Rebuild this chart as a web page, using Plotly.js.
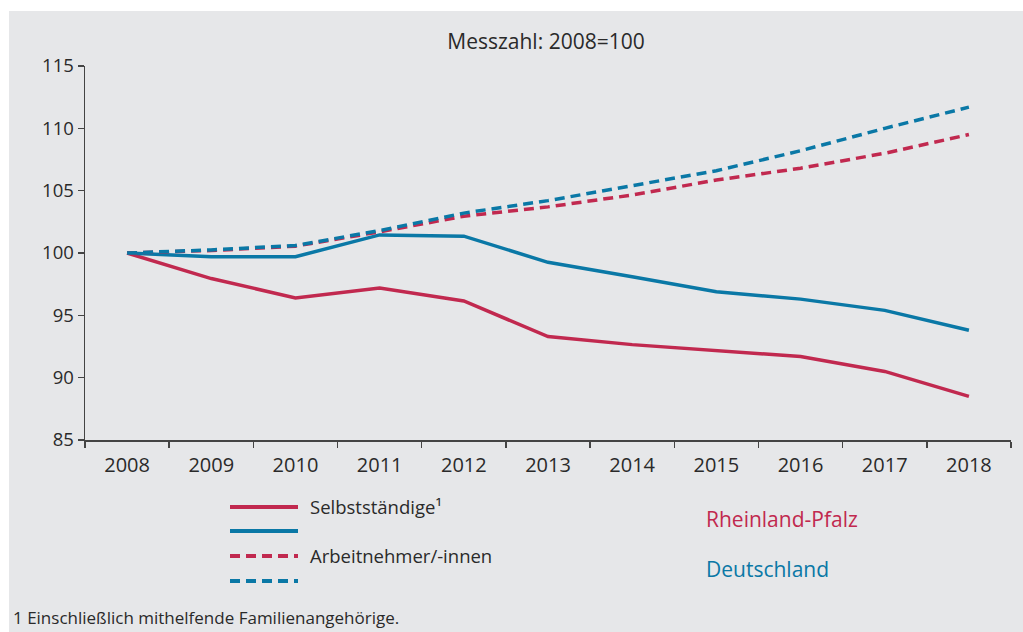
<!DOCTYPE html>
<html>
<head>
<meta charset="utf-8">
<script src="https://cdn.plot.ly/plotly-3.0.1.min.js"></script>
<style>
html,body{margin:0;padding:0;background:#ffffff;}
#chart{position:absolute;left:9px;top:11px;width:1014px;height:621px;}
</style>
</head>
<body>
<div id="chart"></div>
<script>
// ---- data ----
const years = ["2008","2009","2010","2011","2012","2013","2014","2015","2016","2017","2018"];
const selbstRLP = [100, 97.95, 96.4, 97.2, 96.15, 93.3, 92.65, 92.2, 91.7, 90.5, 88.5];
const selbstDE  = [100, 99.7, 99.7, 101.45, 101.35, 99.25, 98.1, 96.9, 96.3, 95.4, 93.8];
const arbnRLP   = [100, 100.2, 100.55, 101.7, 102.95, 103.7, 104.65, 105.85, 106.8, 108.0, 109.5];
const arbnDE    = [100, 100.25, 100.6, 101.8, 103.2, 104.2, 105.4, 106.6, 108.2, 110.0, 111.7];
const yTicks = [85, 90, 95, 100, 105, 110, 115];
const legendLabels = ["Selbstständige¹", "", "Arbeitnehmer/-innen", ""];
const regionLabels = ["Rheinland-Pfalz", "Deutschland"];
const titleText = "Messzahl: 2008=100";
const footnote = "1 Einschließlich mithelfende Familienangehörige.";

const RED = "#c1294f";
const BLUE = "#0a78a6";
const TXT = "#2a2a2a";
const FONT = "Open Sans, Noto Sans, sans-serif";

// layout geometry (div pixels)
const W = 1014, H = 621;
const M = {l: 76, r: 12, t: 55, b: 192};
const PW = W - M.l - M.r, PH = H - M.t - M.b;
const px2x = p => (p - M.l) / PW;
const px2y = p => (H - M.b - p) / PH;

const traces = [
  {x: years, y: selbstRLP, name: "Selbstständige¹ – Rheinland-Pfalz", mode: "lines",
   line: {color: RED, width: 3.5}},
  {x: years, y: selbstDE, name: "Selbstständige¹ – Deutschland", mode: "lines",
   line: {color: BLUE, width: 3.5}},
  {x: years, y: arbnRLP, name: "Arbeitnehmer/-innen – Rheinland-Pfalz", mode: "lines",
   line: {color: RED, width: 3.5, dash: "10px,6px"}},
  {x: years, y: arbnDE, name: "Arbeitnehmer/-innen – Deutschland", mode: "lines",
   line: {color: BLUE, width: 3.5, dash: "10px,6px"}}
];

// legend samples
const legendStyles = [
  {color: RED, dash: "solid"}, {color: BLUE, dash: "solid"},
  {color: RED, dash: "10px,6px"}, {color: BLUE, dash: "10px,6px"}
];
const legendRowY = [496, 520, 545, 570];
const shapes = legendStyles.map((s, i) => ({
  type: "line", xref: "paper", yref: "paper",
  x0: px2x(221), x1: px2x(289), y0: px2y(legendRowY[i]), y1: px2y(legendRowY[i]),
  line: {color: s.color, width: 4, dash: s.dash}
}));

const annotations = [];
legendLabels.forEach((t, i) => {
  if (!t) return;
  annotations.push({text: t, xref: "paper", yref: "paper", x: px2x(299), y: px2y(legendRowY[i] - 1),
    xanchor: "left", yanchor: "middle", showarrow: false, font: {family: FONT, size: 18.5, color: TXT}});
});
annotations.push({text: regionLabels[0], xref: "paper", yref: "paper", x: px2x(695), y: px2y(508),
  xanchor: "left", yanchor: "middle", showarrow: false, font: {family: FONT, size: 21, color: RED}});
annotations.push({text: regionLabels[1], xref: "paper", yref: "paper", x: px2x(695), y: px2y(558),
  xanchor: "left", yanchor: "middle", showarrow: false, font: {family: FONT, size: 21, color: BLUE}});
annotations.push({text: footnote, xref: "paper", yref: "paper", x: px2x(2), y: px2y(606),
  xanchor: "left", yanchor: "middle", showarrow: false, font: {family: FONT, size: 17, color: TXT}});

const layout = {
  width: W, height: H,
  margin: M,
  paper_bgcolor: "#e6e7e9",
  plot_bgcolor: "#e6e7e9",
  showlegend: false,
  font: {family: FONT, color: TXT, size: 18},
  title: {text: titleText, x: px2x(537), xref: "paper", xanchor: "center",
          y: 1 - 31 / H, yref: "container", yanchor: "middle",
          font: {family: FONT, size: 21, color: TXT}},
  xaxis: {
    type: "category", range: [-0.5, 10.5], tickson: "boundaries",
    showgrid: false, zeroline: false, showline: true, linecolor: "#444", linewidth: 1.5,
    ticks: "outside", ticklen: 6, tickcolor: "#444", tickwidth: 1.5, ticklabelstandoff: 6,
    tickfont: {family: FONT, size: 20, color: TXT}, fixedrange: true
  },
  yaxis: {
    range: [85, 115], tickvals: yTicks, ticktext: yTicks.map(String),
    showgrid: false, zeroline: false, showline: true, linecolor: "#444", linewidth: 1.5,
    ticks: "outside", ticklen: 6, tickcolor: "#444", tickwidth: 1.5,
    tickfont: {family: FONT, size: 18.5, color: TXT}, fixedrange: true
  },
  shapes: shapes,
  annotations: annotations
};

Plotly.newPlot("chart", traces, layout, {displayModeBar: false, staticPlot: true});
</script>
</body>
</html>
